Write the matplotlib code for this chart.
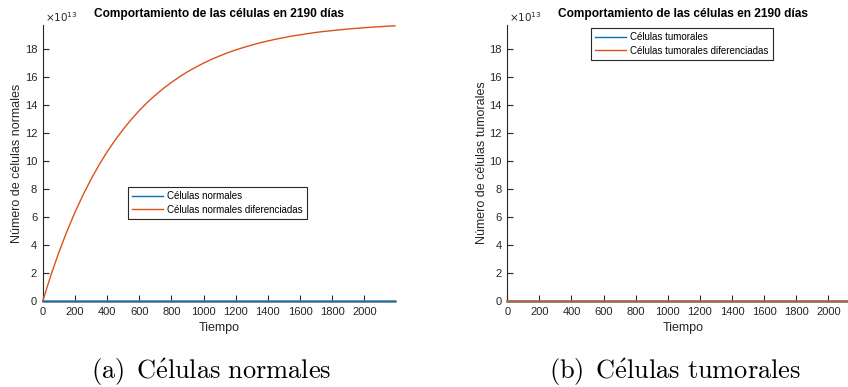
import matplotlib.pyplot as plt

plt.rcParams['font.family'] = ['Liberation Sans', 'DejaVu Sans']
plt.rcParams['mathtext.fontset'] = 'cm'

# tiempo en días y poblaciones en unidades de 1e13 células
tiempo = list(range(0, 2151, 50)) + [2190]
normales_dif = [0.0, 1.81, 3.46, 4.96, 6.32, 7.56, 8.68, 9.71, 10.64, 11.48,
                12.25, 12.95, 13.59, 14.17, 14.69, 15.17, 15.60, 16.00,
                16.36, 16.68, 16.98, 17.25, 17.49, 17.72, 17.92, 18.10,
                18.27, 18.43, 18.56, 18.69, 18.80, 18.91, 19.00, 19.09,
                19.17, 19.24, 19.30, 19.36, 19.42, 19.46, 19.51, 19.55,
                19.58, 19.62, 19.64]
normales = [0.0] * len(tiempo)
tumorales = [0.0] * len(tiempo)
tumorales_dif = [0.0] * len(tiempo)

titulo = 'Comportamiento de las células en 2190 días'
ymax = 19.7
azul = '#0072BD'
naranja = '#D95319'
gris = '#262626'

fig = plt.figure(figsize=(8.48, 3.87), dpi=100)
ax1 = fig.add_axes([0.0504, 0.2222, 0.4153, 0.7132])
ax2 = fig.add_axes([0.5982, 0.2222, 0.4145, 0.7132])


def estilo(ax, ylabel):
    ax.set_xlim(0, 2190)
    ax.set_ylim(0, ymax)
    ax.set_xticks(range(0, 2001, 200))
    ax.set_yticks(range(0, 19, 2))
    for s in ['top', 'right']:
        ax.spines[s].set_visible(False)
    ax.spines['left'].set_color(gris)
    ax.spines['left'].set_linewidth(0.8)
    ax.spines['bottom'].set_color('#7f7f7f')
    ax.spines['bottom'].set_linewidth(1.8)
    ax.tick_params(direction='in', length=4, width=0.8, colors=gris,
                   labelsize=8, pad=4)
    ax.set_xlabel('Tiempo', fontsize=9, color=gris, labelpad=4)
    ax.set_ylabel(ylabel, fontsize=9, color=gris, labelpad=1)
    ax.set_title(titulo, fontsize=8.6, fontweight='bold', pad=6)
    ax.text(0.005, 1.005, r'$\times10^{13}$', transform=ax.transAxes,
            fontsize=7.5, color=gris, ha='left', va='bottom',
            math_fontfamily='dejavusans')


def leyenda(ax, ancla):
    leg = ax.legend(loc='lower left', bbox_to_anchor=ancla,
                    borderaxespad=0, fontsize=7, handlelength=3.2,
                    handletextpad=0.4, labelspacing=0.35, borderpad=0.45,
                    fancybox=False, framealpha=1)
    leg.get_frame().set_edgecolor(gris)
    leg.get_frame().set_linewidth(0.8)


# (a) células normales
ax1.plot(tiempo, normales, color=azul, lw=1.0, label='Células normales',
         zorder=3, clip_on=False)
ax1.plot(tiempo, normales_dif, color=naranja, lw=1.0,
         label='Células normales diferenciadas', zorder=3, clip_on=False)
estilo(ax1, 'Número de células normales')
leyenda(ax1, (0.242, 0.297))

# (b) células tumorales
ax2.plot(tiempo, tumorales, color=azul, lw=1.0, label='Células tumorales',
         zorder=3, clip_on=False)
ax2.plot(tiempo, tumorales_dif, color=naranja, lw=1.0,
         label='Células tumorales diferenciadas', zorder=3, clip_on=False)
estilo(ax2, 'Número de células tumorales')
leyenda(ax2, (0.237, 0.873))

# subtítulos de las figuras
fig.text(211 / 848, 1 - 372 / 387, r'$\mathrm{(a)\ \,C\acute{e}lulas\ normales}$',
         fontsize=19, ha='center', va='center')
fig.text(675 / 848, 1 - 372 / 387, r'$\mathrm{(b)\ \,C\acute{e}lulas\ tumorales}$',
         fontsize=19, ha='center', va='center')

fig.savefig('out.png', dpi=100)
